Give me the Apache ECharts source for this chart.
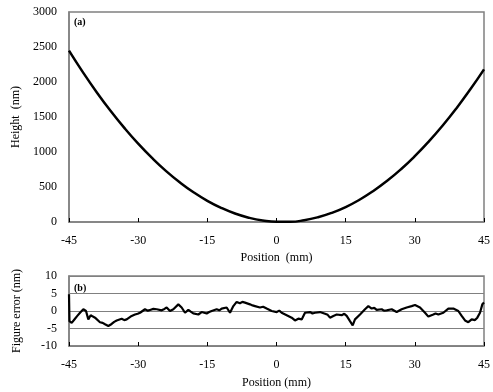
<!DOCTYPE html>
<html>
<head>
<meta charset="utf-8">
<script src="https://cdn.jsdelivr.net/npm/echarts@6/dist/echarts.min.js"></script>
<style>
  html, body { margin: 0; padding: 0; background: #fff; }
  #chart { width: 493px; height: 392px; }
</style>
</head>
<body>
<div id="chart"></div>
<script>
// (a) surface height along the mirror
const heightPos = [-45, -42, -39, -36, -33, -30, -27, -24, -21, -18, -15, -12, -9, -6, -3, 0, 3, 6, 9, 12, 15, 18, 21, 24, 27, 30, 33, 36, 39, 42, 45]
const heightVal = [2448, 2141, 1855, 1589, 1344, 1119, 915, 731, 568, 425, 303, 202, 121, 61, 21, 2, 3, 25, 68, 131, 214, 318, 443, 588, 754, 941, 1148, 1375, 1623, 1892, 2181]

// (b) figure error trace
const errPos = [-45, -44.9, -44.42, -43.7, -43.2, -42.61, -41.89, -41.31, -40.81, -40.3, -39.8, -39.36, -38.28, -37.7, -37.19, -36.47, -35.75, -35.2, -34.66, -33.58, -33, -32.49, -31.41, -30.69, -30.1, -29.6, -28.52, -27.9, -27.43, -26.7, -25.99, -24.9, -24.3, -23.82, -23.1, -22.37, -21.29, -20.57, -19.84, -19.12, -18.6, -18.04, -16.95, -16.23, -15.14, -14.6, -14.06, -12.98, -12.4, -11.89, -10.81, -10.08, -9.36, -8.64, -7.92, -7.4, -6.83, -5.75, -5.2, -4.66, -3.58, -2.9, -2.13, -1.05, 0.04, 0.6, 1.12, 2.21, 3.29, 4.01, 4.74, 5.46, 6.18, 7.27, 7.8, 8.35, 9.43, 10.52, 11.1, 11.6, 12.33, 13.05, 14.13, 14.7, 15.22, 15.94, 16.52, 17.02, 18.11, 19.19, 19.92, 20.64, 21.2, 21.72, 22.81, 23.3, 23.89, 24.98, 26.06, 27.14, 28.23, 29.31, 30.04, 31.12, 32.21, 32.93, 34.01, 34.5, 35.1, 36.18, 37.27, 38.35, 39.43, 40.16, 40.88, 41.6, 42.33, 43.05, 43.55, 44.13, 44.64, 45]
const errVal = [4.8, -2.9, -3.4, -2.2, -1.4, -0.5, 0.5, 0, -2.4, -1.2, -1.6, -1.9, -3.2, -3.4, -3.8, -4.3, -3.7, -3.1, -2.7, -2.2, -2.6, -2.4, -1.4, -1, -0.8, -0.5, 0.5, 0.1, 0.3, 0.6, 0.5, 0.2, 0.6, 1, 0, 0.5, 1.9, 1, -0.5, 0.3, -0.2, -0.7, -1, -0.3, -0.7, -0.3, 0, 0.5, 0.2, 0.7, 1, -0.5, 1.4, 2.6, 2.2, 2.6, 2.4, 1.9, 1.6, 1.4, 1, 1.2, 0.7, 0, -0.3, 0.1, -0.5, -1.2, -1.9, -2.7, -2.2, -2.4, -0.5, -0.3, -0.7, -0.5, -0.3, -0.8, -1.1, -1.9, -1.4, -1, -1.2, -0.8, -1.4, -2.9, -4.1, -2.4, -1, 0.5, 1.4, 0.7, 0.9, 0.3, 0.5, 0.1, 0.2, 0.5, -0.3, 0.5, 1, 1.4, 1.7, 1, -0.5, -1.6, -1, -0.7, -1, -0.5, 0.7, 0.7, 0, -1.4, -2.7, -3.2, -2.4, -2.6, -1.9, -0.5, 1.9, 2.4]

const posTicks = [-45, -30, -15, 0, 15, 30, 45]

const chart = echarts.init(document.getElementById("chart"))

const font = "Liberation Serif"
const axisGray = "#808080"

const xAxisBase = (gridIndex, name) => ({
  type: "value",
  gridIndex,
  min: posTicks[0],
  max: posTicks[posTicks.length - 1],
  interval: 15,
  name,
  nameLocation: "middle",
  nameGap: gridIndex === 0 ? 29 : 31,
  nameTextStyle: { fontFamily: font, fontSize: 12, color: "#000" },
  axisLine: { show: true, onZero: false, lineStyle: { color: axisGray, width: 1.5 } },
  axisTick: { show: true, inside: true, length: 4, lineStyle: { color: "#000" } },
  axisLabel: { fontFamily: font, fontSize: 12, color: "#000", margin: 13 },
  splitLine: { show: false },
})

const yAxisBase = (gridIndex, name, min, max, interval) => ({
  type: "value",
  gridIndex,
  min,
  max,
  interval,
  name,
  nameLocation: "middle",
  nameGap: 46,
  nameTextStyle: { fontFamily: font, fontSize: 12, color: "#000" },
  axisLine: { show: true, onZero: false, lineStyle: { color: axisGray, width: 1.5 } },
  axisTick: { show: false },
  axisLabel: { fontFamily: font, fontSize: 12, color: "#000", margin: 12, formatter: (v) => String(v) },
  splitLine: { show: gridIndex === 1, lineStyle: { color: axisGray, width: 1 } },
})

chart.setOption({
  animation: false,
  backgroundColor: "#fff",
  grid: [
    { left: 69, right: 8, top: 12, height: 210, show: true, borderColor: axisGray, borderWidth: 1.5 },
    { left: 69, right: 8, top: 276, height: 70, show: true, borderColor: axisGray, borderWidth: 1.5 },
  ],
  xAxis: [xAxisBase(0, "Position  (mm)"), xAxisBase(1, "Position (mm)")],
  yAxis: [
    yAxisBase(0, "Height  (nm)", 0, 3000, 500),
    yAxisBase(1, "Figure error (nm)", -10, 10, 5),
  ],
  graphic: [
    { type: "text", left: 74, top: 17, style: { text: "(a)", font: "bold 10px Liberation Serif", fill: "#000" } },
    { type: "text", left: 74, top: 283, style: { text: "(b)", font: "bold 10px Liberation Serif", fill: "#000" } },
  ],
  series: [
    {
      type: "line",
      xAxisIndex: 0,
      yAxisIndex: 0,
      data: heightPos.map((x, i) => [x, heightVal[i]]),
      smooth: true,
      showSymbol: false,
      lineStyle: { color: "#000", width: 2.5 },
    },
    {
      type: "line",
      xAxisIndex: 1,
      yAxisIndex: 1,
      data: errPos.map((x, i) => [x, errVal[i]]),
      showSymbol: false,
      lineStyle: { color: "#000", width: 2.2 },
    },
  ],
})
</script>
</body>
</html>
